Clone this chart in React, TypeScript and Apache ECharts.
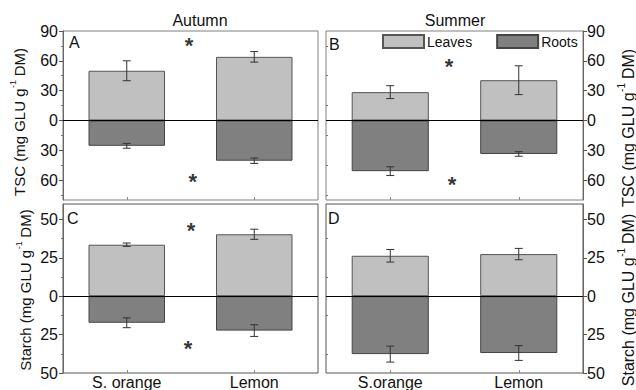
import React, { useEffect, useRef } from "react";
import * as echarts from "echarts";

const FONT = '"Liberation Sans", Arial, sans-serif';

// Categories
const catsTop = ["S. orange", "Lemon"];
const catsC = ["S. orange", "Lemon"];
const catsD = ["S.orange", "Lemon"];

// Axis titles: [before superscript, superscript, after]
const tscTitle = ["TSC (mg GLU g", "-1", "DM)"];
const starchTitle = ["Starch (mg GLU g", "-1", "DM)"];

// TSC (mg GLU g-1 DM)
const tscAutumnLeaves = [50, 64];
const tscAutumnLeavesErr = [10, 5.3];
const tscAutumnRoots = [-25.5, -40.5];
const tscAutumnRootsErr = [2.4, 2.7];
const tscSummerLeaves = [28.5, 40.5];
const tscSummerLeavesErr = [6.5, 14.5];
const tscSummerRoots = [-51, -33.7];
const tscSummerRootsErr = [4.4, 2.3];

// Starch (mg GLU g-1 DM)
const starchAutumnLeaves = [33.5, 40.3];
const starchAutumnLeavesErr = [1.1, 3.3];
const starchAutumnRoots = [-17.3, -22.4];
const starchAutumnRootsErr = [3.2, 3.8];
const starchSummerLeaves = [26.3, 27.4];
const starchSummerLeavesErr = [4.1, 3.7];
const starchSummerRoots = [-37.7, -37.0];
const starchSummerRootsErr = [5.2, 4.8];

// Significance asterisks: [x position on 0..2 scale, value]
const starsA = [[0.988, 80], [1.017, -56]];
const starsB = [[0.957, 59], [0.98, -59]];
const starsC = [[1.004, 45.7], [0.98, -31]];
const starsD: number[][] = [];

// Axis ticks
const tscRange = [-80, 90];
const tscMajor = [-60, -30, 0, 30, 60, 90];
const tscMinor = [-75, -45, -15, 15, 45, 75];
const starchRange = [-50, 60];
const starchMajor = [-50, -25, 0, 25, 50];
const starchMinor = [-37.5, -12.5, 12.5, 37.5];

const LEAF = "#c0c0c0";
const ROOT = "#808080";

function measure(text: string, size: number): number {
  const c = document.createElement("canvas");
  const ctx = c.getContext("2d");
  if (!ctx) return text.length * size * 0.5;
  ctx.font = `${size}px ${FONT}`;
  return ctx.measureText(text).width;
}

export default function App() {
  const ref = useRef<HTMLDivElement>(null);
  useEffect(() => {
    if (!ref.current) return;
    const chart = echarts.init(ref.current, undefined, { renderer: "svg" });

    const grids = [
      { left: 63, top: 31, width: 255, height: 169 },
      { left: 326, top: 31, width: 257, height: 169 },
      { left: 63, top: 204, width: 255, height: 169 },
      { left: 326, top: 204, width: 257, height: 169 },
    ];
    const panels = [
      { cats: catsTop, showX: false, leaves: tscAutumnLeaves, le: tscAutumnLeavesErr, roots: tscAutumnRoots, re: tscAutumnRootsErr, range: tscRange, major: tscMajor, minor: tscMinor, side: "left", stars: starsA, frame: "#808080" },
      { cats: catsTop, showX: false, leaves: tscSummerLeaves, le: tscSummerLeavesErr, roots: tscSummerRoots, re: tscSummerRootsErr, range: tscRange, major: tscMajor, minor: tscMinor, side: "right", stars: starsB, frame: "#808080" },
      { cats: catsC, showX: true, leaves: starchAutumnLeaves, le: starchAutumnLeavesErr, roots: starchAutumnRoots, re: starchAutumnRootsErr, range: starchRange, major: starchMajor, minor: starchMinor, side: "left", stars: starsC, frame: "#555" },
      { cats: catsD, showX: true, leaves: starchSummerLeaves, le: starchSummerLeavesErr, roots: starchSummerRoots, re: starchSummerRootsErr, range: starchRange, major: starchMajor, minor: starchMinor, side: "right", stars: starsD, frame: "#555" },
    ];

    const grid = grids.map((g, i) => ({ ...g, show: true, borderColor: panels[i].frame, borderWidth: 1, backgroundColor: "transparent" }));

    const xAxis: any[] = [];
    const yAxis: any[] = [];
    const series: any[] = [];

    panels.forEach((p, i) => {
      xAxis.push({
        type: "category",
        gridIndex: i,
        data: p.cats,
        position: "bottom",
        axisLine: { show: false, onZero: false },
        axisTick: { show: true, inside: true, length: 3, alignWithLabel: true, lineStyle: { color: "#888" } },
        axisLabel: { show: p.showX, fontSize: 16, color: "#111", margin: 1, fontFamily: FONT },
        splitLine: { show: false },
      });
    });
    panels.forEach((p, i) => {
      xAxis.push({ type: "value", gridIndex: i, min: 0, max: 2, show: false });
    });
    panels.forEach((p, i) => {
      yAxis.push({
        type: "value",
        gridIndex: i,
        min: p.range[0],
        max: p.range[1],
        position: p.side,
        axisLine: { show: true, onZero: false, lineStyle: { color: "#666" } },
        axisTick: { show: true, length: 4, customValues: p.major, lineStyle: { color: "#555" } },
        axisLabel: {
          show: true,
          customValues: p.major,
          fontSize: 16,
          color: "#111",
          fontFamily: FONT,
          margin: p.side === "left" ? 5 : 4,
          padding: [0, 0, 4, 0],
          formatter: (v: number) => String(Math.abs(v)),
        },
        splitLine: { show: false },
      });
    });
    panels.forEach((p, i) => {
      yAxis.push({
        type: "value",
        gridIndex: i,
        min: p.range[0],
        max: p.range[1],
        position: p.side,
        axisLine: { show: false },
        axisTick: { show: true, length: 2, customValues: p.minor, lineStyle: { color: "#777" } },
        axisLabel: { show: false },
        splitLine: { show: false },
      });
    });

    panels.forEach((p, i) => {
      series.push({
        type: "bar",
        name: "Leaves",
        xAxisIndex: i,
        yAxisIndex: i,
        data: p.leaves,
        barWidth: "60%",
        barGap: "-100%",
        itemStyle: { color: LEAF, borderColor: "#555", borderWidth: 1 },
        markLine: {
          silent: true,
          symbol: ["none", "none"],
          label: { show: false },
          lineStyle: { color: "#000", width: 1, type: "solid" },
          data: [{ yAxis: 0 }],
        },
        z: 2,
      });
      series.push({
        type: "bar",
        name: "Roots",
        xAxisIndex: i,
        yAxisIndex: i,
        data: p.roots,
        barWidth: "60%",
        barGap: "-100%",
        itemStyle: { color: ROOT, borderColor: "#444", borderWidth: 1 },
        z: 2,
      });
      const errData: number[][] = [];
      p.leaves.forEach((v, k) => errData.push([k, v, p.le[k]]));
      p.roots.forEach((v, k) => errData.push([k, v, p.re[k]]));
      series.push({
        type: "custom",
        xAxisIndex: i,
        yAxisIndex: i,
        data: errData,
        z: 5,
        renderItem: (params: any, api: any) => {
          const x = api.value(0);
          const v = api.value(1);
          const e = api.value(2);
          const hi = api.coord([x, v + e]);
          const lo = api.coord([x, v - e]);
          const cap = 4;
          const st = { stroke: "#333", lineWidth: 1 };
          return {
            type: "group",
            children: [
              { type: "line", shape: { x1: hi[0], y1: hi[1], x2: lo[0], y2: lo[1] }, style: st },
              { type: "line", shape: { x1: hi[0] - cap, y1: hi[1], x2: hi[0] + cap, y2: hi[1] }, style: st },
              { type: "line", shape: { x1: lo[0] - cap, y1: lo[1], x2: lo[0] + cap, y2: lo[1] }, style: st },
            ],
          };
        },
      });
      if (p.stars.length) {
        series.push({
          type: "scatter",
          xAxisIndex: 4 + i,
          yAxisIndex: i,
          data: p.stars,
          symbolSize: 1,
          itemStyle: { color: "rgba(0,0,0,0)" },
          label: {
            show: true,
            position: "inside",
            formatter: "*",
            fontSize: 22,
            fontWeight: "bold",
            color: "#000",
            fontFamily: FONT,
            offset: [0, 5],
          },
          z: 6,
        });
      }
    });

    // Rotated axis title built from pieces (reads bottom-to-top)
    const yName = (parts: string[], cx: number, cy: number, size: number) => {
      const sup = Math.round(size * 0.6);
      const w1 = measure(parts[0], size);
      const w2 = measure(parts[1], sup);
      const gap = measure(" ", size);
      const w3 = measure(parts[2], size);
      const total = w1 + w2 + gap + w3;
      const x0 = -total / 2;
      const base = { fontFamily: FONT, fill: "#111", verticalAlign: "middle", align: "left" };
      return {
        type: "group",
        x: cx,
        y: cy,
        rotation: Math.PI / 2,
        children: [
          { type: "text", x: x0, y: 0, style: { ...base, text: parts[0], fontSize: size } },
          { type: "text", x: x0 + w1 + 0.5, y: -size * 0.38, style: { ...base, text: parts[1], fontSize: sup } },
          { type: "text", x: x0 + w1 + w2 + gap, y: 0, style: { ...base, text: parts[2], fontSize: size } },
        ],
      };
    };
    const label = (text: string, x: number, y: number, size: number, align = "left") => ({
      type: "text",
      x,
      y,
      style: { text, fontSize: size, fontFamily: FONT, fill: "#111", align, verticalAlign: "middle" },
    });

    chart.setOption({
      animation: false,
      textStyle: { fontFamily: FONT },
      grid,
      xAxis,
      yAxis,
      legend: {
        data: ["Leaves", "Roots"],
        left: 382,
        top: 34,
        padding: 0,
        itemWidth: 41,
        itemHeight: 13,
        itemGap: 24,
        icon: "rect",
        textStyle: { fontSize: 14, color: "#111", fontFamily: FONT, padding: [0, 0, 0, -2] },
      },
      series,
      graphic: [
        label("Autumn", 200, 20, 16, "center"),
        label("Summer", 455, 20, 16, "center"),
        label("A", 69, 42, 16),
        label("B", 329, 44, 16),
        label("C", 67, 218, 16),
        label("D", 328, 218, 16),
        yName(tscTitle, 19, 122, 15),
        yName(starchTitle, 25, 290, 15),
        yName(tscTitle, 628, 128, 16),
        yName(starchTitle, 628, 300, 16),
      ],
    });
    return () => chart.dispose();
  }, []);
  return <div ref={ref} style={{ position: "absolute", left: 0, top: 0, width: 636, height: 390 }} />;
}
